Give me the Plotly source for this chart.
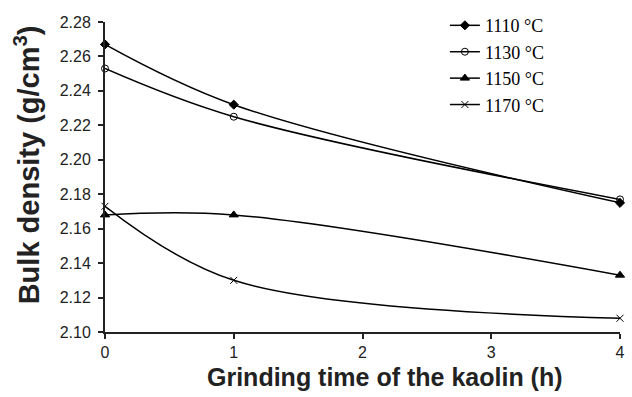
import plotly.graph_objects as go

time_h = [0, 1, 4]
series_names = ["1110 °C", "1130 °C", "1150 °C", "1170 °C"]
d1110 = [2.267, 2.232, 2.175]
d1130 = [2.253, 2.225, 2.177]
d1150 = [2.168, 2.168, 2.133]
d1170 = [2.173, 2.130, 2.108]
symbols = ["diamond", "circle-open", "triangle-up", "x-thin-open"]
sizes = [7, 7, 8, 7]
x_title = "<b>Grinding time of the kaolin (h)</b>"
y_title = "<b>Bulk density (g/cm<sup>3</sup>)</b>"

fig = go.Figure()
for name, vals, sym, sz in zip(series_names, [d1110, d1130, d1150, d1170], symbols, sizes):
    fig.add_trace(go.Scatter(
        x=time_h, y=vals, name=name, mode="lines+markers",
        line=dict(color="black", width=1.5, shape="spline", smoothing=1.0),
        marker=dict(symbol=sym, size=sz, color="black", line=dict(color="black", width=1)),
        cliponaxis=False,
    ))

fig.update_layout(
    width=632, height=397,
    margin=dict(l=105, r=7, t=20, b=65),
    paper_bgcolor="white", plot_bgcolor="white",
    showlegend=True,
    legend=dict(x=0.66, y=1.048, xanchor="left", yanchor="top",
                font=dict(family="Liberation Serif", size=18, color="black"),
                bgcolor="rgba(0,0,0,0)", itemwidth=30),
    font=dict(family="Liberation Sans, Arial", color="#222"),
    annotations=[
        dict(text=x_title, xref="paper", yref="paper", x=0.544, y=-0.145,
             xanchor="center", yanchor="middle", showarrow=False,
             font=dict(size=25, family="Liberation Sans, Arial", color="#222")),
        dict(text=y_title, xref="paper", yref="paper", x=-0.152, y=0.54,
             xanchor="center", yanchor="middle", showarrow=False, textangle=-90,
             font=dict(size=29, family="Liberation Sans, Arial", color="#222")),
    ],
)
fig.update_xaxes(
    range=[0, 4], tickvals=[0, 1, 2, 3, 4], ticktext=["0", "1", "2", "3", "4"],
    showline=True, linecolor="#222", linewidth=2, ticks="outside", ticklen=5,
    tickwidth=2, tickcolor="#222", showgrid=False, zeroline=False,
    tickfont=dict(size=16, family="Liberation Sans, Arial", color="#222"),
)
fig.update_yaxes(
    range=[2.10, 2.28], tickvals=[2.10, 2.12, 2.14, 2.16, 2.18, 2.20, 2.22, 2.24, 2.26, 2.28],
    tickformat=".2f", ticklabelstandoff=4,
    showline=True, linecolor="#222", linewidth=2, ticks="outside", ticklen=5,
    tickwidth=2, tickcolor="#222", showgrid=False, zeroline=False,
    tickfont=dict(size=16, family="Liberation Sans, Arial", color="#222"),
)

fig.write_html("out.html")
